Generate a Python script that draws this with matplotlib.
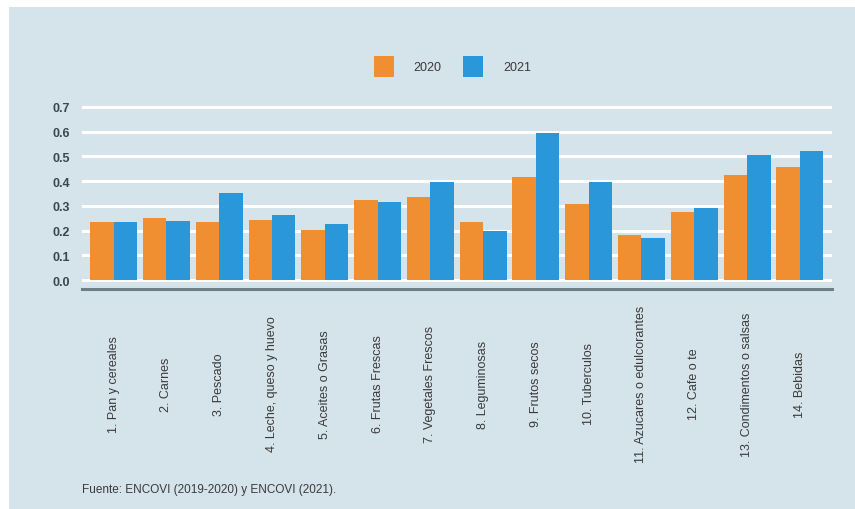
import matplotlib
matplotlib.use("Agg")
import matplotlib.pyplot as plt
import matplotlib.patches as mpatches
import numpy as np

categories = [
    "1. Pan y cereales", "2. Carnes", "3. Pescado", "4. Leche, queso y huevo",
    "5. Aceites o Grasas", "6. Frutas Frescas", "7. Vegetales Frescos",
    "8. Leguminosas", "9. Frutos secos", "10. Tuberculos",
    "11. Azucares o edulcorantes", "12. Cafe o te", "13. Condimentos o salsas",
    "14. Bebidas",
]
values_2020 = [0.234, 0.250, 0.234, 0.243, 0.202, 0.324, 0.335,
               0.236, 0.416, 0.308, 0.182, 0.274, 0.425, 0.459]
values_2021 = [0.234, 0.238, 0.351, 0.262, 0.227, 0.314, 0.395,
               0.197, 0.594, 0.395, 0.169, 0.290, 0.507, 0.524]
series_labels = ["2020", "2021"]
yticks = [0.0, 0.1, 0.2, 0.3, 0.4, 0.5, 0.6, 0.7]
source = "Fuente: ENCOVI (2019-2020) y ENCOVI (2021)."

plt.rcParams["font.family"] = ["Liberation Sans", "DejaVu Sans"]

BG = "#d5e3ea"
ORANGE = "#ef8f32"
BLUE = "#2b97db"
TXT = "#3a3a3a"

W, H = 855, 510
fig = plt.figure(figsize=(W / 100, H / 100), dpi=100, facecolor="white")
# panel background
fig.patches.append(mpatches.Rectangle((9 / W, 0), 1 - 9 / W, 1 - 8 / H,
                                      transform=fig.transFigure,
                                      facecolor=BG, edgecolor="none", zorder=-10))

left, right = 82 / W, 832 / W
bottom, top = 1 - 290 / H, 1 - 105.5 / H
ax = fig.add_axes([left, bottom, right - left, top - bottom])
ax.set_zorder(5)
ax.patch.set_alpha(0)

x = np.arange(len(categories))
bw = 0.445
ax.bar(x - bw / 2, values_2020, width=bw, color=ORANGE, label=series_labels[0], zorder=3)
ax.bar(x + bw / 2, values_2021, width=bw, color=BLUE, label=series_labels[1], zorder=3)

ax.set_xlim(-0.6, 13.61)
ax.set_ylim(-0.036, 0.71)
ax.set_yticks(yticks)
ax.set_yticklabels([f"{t:.1f}" for t in yticks], fontweight="bold")
ax.grid(axis="y", color="white", linewidth=2.2, zorder=1)
ax.set_axisbelow(True)

for s in ["top", "right", "left"]:
    ax.spines[s].set_visible(False)
ax.spines["bottom"].set_color("#6e7f88")
ax.spines["bottom"].set_linewidth(2.2)

ax.tick_params(axis="y", length=0, pad=8.5, labelsize=9, labelcolor="#3b4750")
ax.set_xticks(x)
ax.set_xticklabels(categories, rotation=90, va="center", ha="center",
                   fontsize=9, color=TXT)
ax.tick_params(axis="x", length=0, pad=68)

handles, labels = ax.get_legend_handles_labels()
leg = fig.legend(handles, labels, loc="center", bbox_to_anchor=(0.529, 0.868),
                 ncol=2, frameon=False, fontsize=9, handlelength=1.6,
                 handleheight=2.2, handletextpad=1.6, columnspacing=1.7,
                 borderpad=0, labelcolor=TXT)
leg.set_zorder(6)

fig.text(82 / W, 1 - 490 / H, source, fontsize=8.5, color=TXT,
         ha="left", va="center")

fig.savefig("out.png", dpi=100, facecolor="white")
